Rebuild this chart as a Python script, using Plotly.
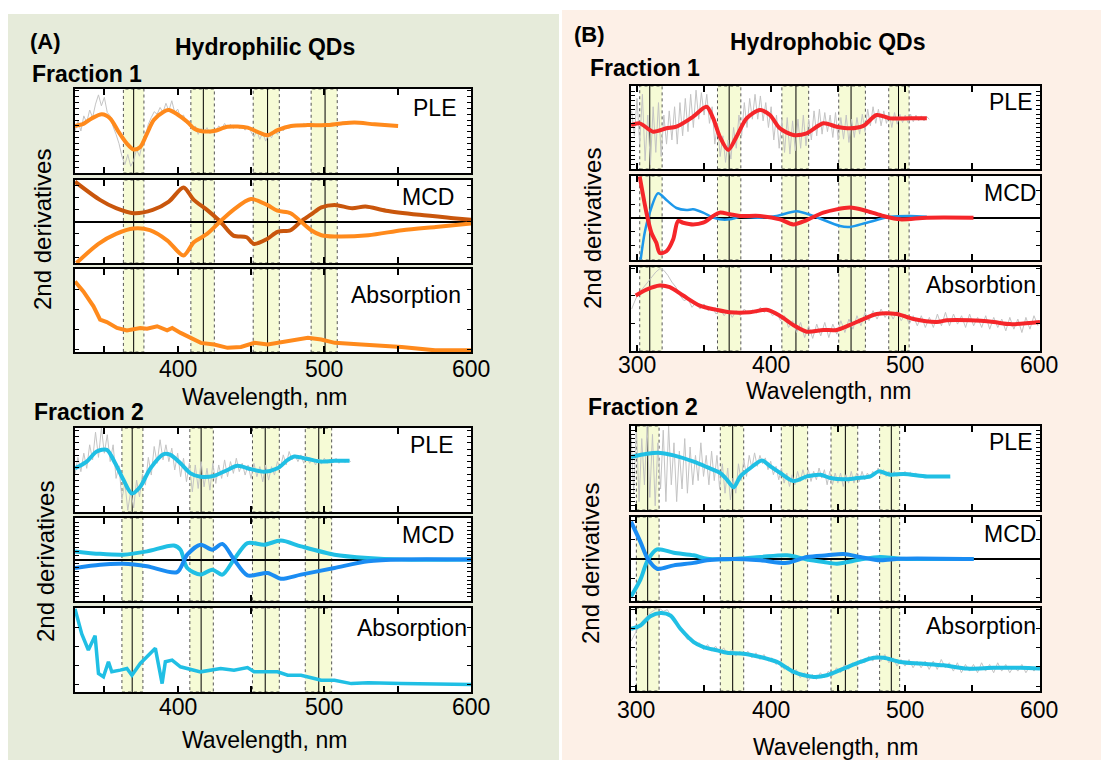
import plotly.graph_objects as go

W, H = 1101, 760
FONT = "Liberation Sans, Arial, sans-serif"

# ------------------------------------------------------------------ DATA
# Panel A (hydrophilic), fraction 1
A1_PLE_WL = [330, 335.7, 341.4, 348.3, 354, 359.7, 365.4, 370, 374.5, 379.1, 383.7, 390.5, 393.9, 399.6,
             406.5, 411.1, 415.6, 424.7, 433.9, 447.6, 454.4, 461.3, 468.1, 477.3, 488.7, 501.2, 511.5,
             520.6, 534.3, 550.3]
A1_PLE = [5.6, 5.84, 6.5, 7.0, 6.5, 4.9, 3.5, 2.8, 3.1, 4.7, 6.3, 7.3, 7.5, 7.0, 6.1, 5.3, 5.0, 5.0, 5.5,
          5.4, 4.9, 4.5, 5.1, 5.6, 5.7, 5.7, 5.9, 6.0, 5.8, 5.6]
A1_PLE_RAW_START, A1_PLE_RAW_STEP = 330, 2
A1_PLE_RAW = [5.0, 6.2, 5.0, 6.8, 6.0, 7.5, 6.6, 8.2, 9.3, 8.0, 9.0, 7.2, 6.8, 5.5, 4.6, 3.5, 2.0, 1.0, 2.2,
              0.8, 1.5, 2.8, 2.0, 3.6, 4.4, 5.8, 6.6, 7.3, 7.0, 7.8, 7.2, 8.3, 7.4, 8.6, 7.2, 7.6, 6.6, 6.9,
              5.9, 6.2, 5.2, 5.6, 4.6, 5.3, 4.9, 5.4, 4.7, 5.2, 5.0, 5.6, 5.3, 5.9, 5.4, 5.8, 5.3, 5.7, 5.3,
              5.5, 5.1, 5.6, 4.9, 4.3, 5.0, 4.0, 4.8, 3.8, 4.6, 4.2, 5.0, 4.6, 5.4, 5.0, 5.6, 5.3, 5.8, 5.5,
              5.8, 5.5, 5.9, 5.6, 5.8]
A1_MCD_A_WL = [330, 347, 358, 370, 383, 394, 404, 411, 420, 429, 438, 447, 452, 461, 468, 477, 484, 491, 498,
               507, 519, 528, 542, 565, 588, 600]
A1_MCD_A = [4.8, 2.6, 1.6, 1.0, 1.4, 2.4, 4.1, 2.6, 1.4, 0.0, -1.7, -1.9, -2.7, -2.1, -1.25, -1.05, 0.0,
            0.85, 1.7, 2.0, 1.6, 1.8, 1.3, 0.8, 0.4, 0.2]
A1_MCD_B_WL = [331, 346, 358, 370, 381, 393, 404, 411, 420, 429, 438, 450, 461, 468, 477, 484, 491, 498, 507,
               530, 553, 576, 600]
A1_MCD_B = [-5.0, -2.7, -1.5, -0.85, -1.05, -2.3, -4.1, -2.5, -1.5, 0.0, 1.4, 2.7, 2.0, 1.3, 1.0, 0.0, -1.05,
            -1.65, -1.8, -1.65, -1.05, -0.65, -0.25]
A1_ABS_WL = [330, 335.7, 342.6, 347.1, 351.7, 358.6, 365.4, 370, 374.5, 379.1, 386, 392.8, 396.3, 402, 408.9,
             415.8, 424.9, 434, 443.2, 452.3, 461.4, 475.1, 488.8, 497.9, 507.1, 525.3, 552.7, 575.5, 600]
A1_ABS = [8.5, 7.3, 5.5, 3.9, 3.6, 2.9, 2.6, 2.7, 2.9, 2.8, 3.1, 2.6, 2.9, 2.3, 1.7, 1.1, 0.9, 0.5, 0.6, 1.1,
          0.9, 1.3, 1.7, 1.5, 1.1, 0.9, 0.6, 0.2, 0.2]

# Panel A, fraction 2
A2_PLE_WL = [330, 338, 344.8, 351.7, 357.4, 363.1, 368.8, 374.5, 381.4, 390.5, 395.1, 401.9, 408.8, 415.6,
             424.7, 433.9, 440.7, 449.9, 459, 468.1, 475, 479.5, 488.7, 497.8, 506.9, 517.2]
A2_PLE = [5.2, 6.0, 7.2, 7.4, 5.8, 3.8, 2.2, 3.0, 5.2, 6.9, 6.8, 5.8, 4.6, 4.2, 4.3, 5.0, 5.5, 5.1, 4.8, 5.2,
          6.2, 6.6, 6.3, 6.0, 6.1, 6.1]
A2_PLE_RAW_START, A2_PLE_RAW_STEP = 330, 2
A2_PLE_RAW = [4.5, 6.5, 4.8, 7.0, 5.2, 8.0, 6.2, 9.5, 6.5, 10.0, 7.0, 9.2, 6.0, 8.0, 4.0, 5.5, 1.5, 3.5, 0.2,
              2.5, 0.5, 3.8, 1.8, 4.5, 3.2, 6.5, 4.4, 7.8, 5.8, 8.6, 6.2, 8.0, 6.0, 7.6, 5.0, 7.0, 4.2, 6.4,
              3.6, 5.8, 2.4, 5.6, 2.8, 6.0, 3.0, 5.2, 2.6, 5.8, 3.4, 5.6, 4.0, 6.2, 4.2, 6.0, 4.6, 6.4, 4.8,
              5.8, 4.4, 5.6, 4.0, 5.8, 4.2, 5.4, 3.6, 5.6, 3.8, 5.4, 4.4, 6.0, 5.2, 6.8, 5.6, 7.2, 6.2, 6.8,
              6.0, 6.8, 5.8, 6.6, 5.8, 6.4, 5.6, 6.3, 5.7, 6.4, 5.8, 6.3, 5.9, 6.4, 5.8, 6.3, 5.9, 6.2, 6.0]
A2_MCD_A_WL = [330, 347.1, 363.1, 379.1, 397.4, 401.9, 406.5, 415.6, 423.6, 430.5, 438.4, 447.6, 459, 470.4,
               484.1, 506.9, 529.8, 552.6, 600]
A2_MCD_A = [0.98, 0.68, 0.58, 0.98, 1.68, 1.18, -1.02, -1.82, -1.22, -1.82, 0.0, 1.98, 1.78, 2.28, 1.58, 0.58,
            0.18, 0.0, 0.0]
A2_MCD_B_WL = [330, 347.1, 363.1, 379.1, 399.6, 406.5, 415.6, 423.6, 430.5, 438.4, 447.6, 461.3, 470.4, 484.1,
               506.9, 529.8, 552.6, 600]
A2_MCD_B = [-1.02, -0.62, -0.52, -0.82, -1.52, 0.58, 1.78, 1.18, 1.88, 0.0, -1.92, -1.62, -2.32, -1.82, -1.02,
            -0.22, 0.0, 0.0]
A2_ABS_WL = [330, 334.6, 339.1, 343.7, 346, 349.4, 352.8, 355.1, 360.8, 365.4, 368.8, 374.5, 384.8, 389.4,
             391.6, 396.2, 401.9, 415.6, 429.3, 438.4, 447.6, 452.1, 461.3, 468.1, 475, 484.1, 493.2, 497.8,
             506.9, 518.4, 529.8, 552.6, 600]
A2_ABS = [9.9, 6.9, 5.0, 6.7, 2.2, 1.8, 3.6, 2.4, 2.6, 2.8, 2.0, 3.4, 5.2, 1.0, 3.6, 3.8, 3.0, 2.4, 2.8, 2.6,
          2.9, 2.4, 2.4, 2.4, 2.0, 2.0, 1.6, 1.4, 1.4, 1.0, 1.1, 1.0, 0.9]

# Panel B (hydrophobic), fraction 1
B1_PLE_WL = [295.5, 302, 312, 321.9, 329.4, 341.8, 351.8, 356.8, 361.7, 368, 374.2, 381.7, 391.6, 399.1,
             406.5, 416.5, 426.5, 438.9, 448.9, 458.8, 468.8, 478.7, 488.7, 503.6, 516.1]
B1_PLE = [5.3, 5.5, 4.5, 4.9, 5.1, 6.3, 7.5, 6.1, 3.9, 2.3, 3.9, 6.1, 7.1, 6.5, 4.9, 4.1, 4.3, 5.5, 5.1, 4.9,
          5.2, 6.5, 6.1, 6.1, 6.1]
B1_PLE_RAW_START, B1_PLE_RAW_STEP = 296, 2
B1_PLE_RAW = [7.0, 4.0, 8.5, 3.0, 9.0, 1.0, 6.5, 0.5, 7.5, 2.0, 8.0, 1.5, 6.5, 3.0, 7.0, 3.5, 7.5, 3.0, 8.0,
              4.0, 8.5, 4.5, 9.0, 5.0, 9.5, 6.0, 9.2, 6.5, 9.0, 5.5, 7.5, 3.0, 5.5, 1.5, 4.0, 0.8, 3.5, 1.2,
              5.0, 2.5, 6.5, 4.0, 8.0, 5.0, 8.5, 6.0, 9.0, 6.0, 8.8, 5.8, 8.0, 5.0, 7.5, 3.5, 6.5, 2.5, 6.0,
              2.0, 6.2, 1.8, 5.8, 2.2, 6.0, 2.5, 6.5, 2.8, 6.0, 3.5, 7.0, 4.0, 7.2, 4.2, 6.8, 4.5, 6.5, 3.8,
              6.8, 3.5, 6.2, 3.6, 6.5, 3.2, 6.0, 3.8, 6.2, 4.2, 6.6, 4.5, 7.2, 5.2, 7.5, 5.5, 7.2, 5.2, 7.0,
              5.5, 6.8, 5.0, 6.8, 5.4, 6.6, 5.6, 6.5, 5.6, 6.6, 5.7, 6.5, 5.8, 6.4, 5.8, 6.3, 6.0]
B1_MCD_A_WL = [302, 307, 310.7, 314.4, 316.9, 321.9, 326.9, 330.6, 334.4, 341.8, 349.3, 356.8, 361.7, 369.2,
               376.7, 391.6, 406.5, 416.5, 426.5, 438.9, 458.8, 471.3, 483.7, 496.2, 516.1, 550.9]
B1_MCD_A = [4.94, 0.64, -1.76, -2.96, -4.16, -3.96, -2.56, -0.36, -0.56, -0.76, -0.56, 0.24, 0.64, 0.44, 0.24,
            0.24, -0.16, -0.76, -0.26, 0.64, 1.24, 0.84, 0.24, -0.16, 0.04, 0.04]
B1_MCD_B_WL = [302.7, 305.7, 309.5, 315.7, 321.9, 329.4, 336.8, 341.8, 349.3, 356.8, 361.7, 369.2, 376.7,
               391.6, 404.1, 419, 431.4, 451.4, 458.8, 471.3, 488.7, 503.6, 516.1]
B1_MCD_B = [-4.96, -1.76, 0.64, 2.94, 2.14, 1.19, 0.94, 1.04, 0.64, 0.04, -0.16, -0.16, 0.14, 0.04, 0.24, 0.79,
            0.24, -0.96, -1.06, -0.56, 0.14, 0.24, 0.14]
B1_ABS_WL = [299, 307, 316.9, 324.4, 334.4, 346.8, 359.2, 369.2, 384.1, 396.6, 406.5, 416.5, 426.5, 438.9,
             448.9, 458.8, 468.8, 478.7, 493.7, 506.1, 523.5, 531, 548.4, 565.9, 578.3, 600.5]
B1_ABS = [6.6, 7.3, 7.8, 7.6, 6.6, 5.4, 4.9, 4.6, 4.6, 4.9, 4.2, 3.1, 2.3, 2.5, 2.5, 3.1, 3.8, 4.4, 4.4, 3.8,
          3.45, 3.65, 3.65, 3.45, 3.2, 3.45]
B1_ABS_RAW_START, B1_ABS_RAW_STEP = 296, 3
B1_ABS_RAW = [5.0, 6.2, 7.0, 7.6, 8.2, 8.8, 9.4, 9.8, 9.6, 9.0, 8.2, 7.6, 6.6, 6.0, 6.2, 5.2, 5.8, 5.0, 5.6,
              4.8, 5.2, 4.4, 5.0, 4.2, 4.9, 4.0, 4.8, 4.2, 5.0, 4.4, 4.9, 4.5, 5.2, 4.6, 5.0, 4.2, 4.6, 3.6,
              4.2, 2.8, 3.6, 2.2, 3.4, 1.6, 3.0, 1.5, 3.2, 1.8, 3.4, 1.6, 3.2, 2.0, 3.6, 2.2, 3.8, 2.6, 4.2,
              3.0, 4.6, 3.6, 4.8, 3.8, 5.0, 4.0, 4.8, 3.8, 4.8, 3.6, 4.4, 3.2, 4.2, 3.0, 4.2, 2.8, 4.0, 2.8,
              4.4, 3.0, 4.6, 3.0, 4.4, 3.2, 4.2, 2.8, 4.4, 3.0, 4.0, 2.8, 4.2, 2.6, 4.0, 2.8, 3.8, 2.4, 4.0,
              2.6, 3.8, 2.2, 4.0, 2.6, 4.2, 3.0]

# Panel B, fraction 2
B2_PLE_WL = [296, 307.9, 317.9, 327.8, 342.7, 352.6, 362.5, 367.5, 372.5, 377.4, 384.9, 393.5, 399.8, 407.2,
             417.1, 427, 437, 444.4, 454.3, 464.3, 474.2, 480.4, 489.1, 499, 516.4, 533.7]
B2_PLE = [6.3, 6.7, 6.8, 6.5, 5.75, 5.1, 4.4, 3.6, 2.7, 4.0, 5.0, 5.9, 5.2, 4.4, 3.45, 4.0, 4.2, 3.8, 3.65,
          3.8, 4.0, 4.6, 4.2, 4.3, 4.0, 4.0]
B2_PLE_RAW_START, B2_PLE_RAW_STEP = 296, 2
B2_PLE_RAW = [9.0, 2.0, 10.0, 1.0, 8.5, 3.0, 10.0, 1.5, 9.0, 0.5, 8.0, 2.5, 9.5, 1.0, 10.0, 3.0, 8.0, 1.0,
              7.0, 2.5, 8.5, 2.0, 7.5, 3.0, 6.5, 3.5, 8.0, 4.0, 6.5, 3.0, 7.0, 3.5, 6.5, 2.5, 5.5, 2.0, 5.0,
              1.2, 3.8, 2.0, 5.5, 3.5, 6.0, 4.0, 6.5, 5.0, 6.8, 5.2, 6.5, 5.5, 6.2, 4.8, 5.8, 4.2, 5.2, 3.6,
              5.0, 3.2, 4.4, 2.8, 4.2, 3.0, 4.6, 3.4, 4.8, 3.6, 4.8, 3.4, 4.6, 3.6, 5.0, 3.8, 4.8, 3.0, 4.6,
              3.0, 4.4, 3.2, 4.4, 2.8, 4.2, 3.2, 4.6, 3.2, 4.4, 3.4, 4.6, 3.6, 4.4, 3.8, 4.6, 4.2, 5.0, 4.2,
              4.8, 4.0, 4.6, 4.0, 4.6, 4.0, 4.5, 4.1, 4.6, 4.2, 4.5, 4.1, 4.4, 4.0]
B2_MCD_A_WL = [296, 303, 308.4, 315.4, 327.8, 342.7, 352.6, 372.5, 392.3, 412.2, 427, 439.5, 449.4, 466.7,
               481.6, 496.5, 551.1]
B2_MCD_A = [-4.46, -2.46, -0.16, 1.14, 0.74, 0.44, 0.04, 0.0, 0.24, 0.44, -0.06, -0.36, -0.56, -0.06, 0.24,
            0.04, 0.0]
B2_MCD_B_WL = [296, 303, 308.4, 315.4, 327.8, 342.7, 352.6, 372.5, 392.3, 412.2, 427, 441.9, 454.3, 466.7,
               481.6, 496.5, 551.1]
B2_MCD_B = [4.44, 2.04, 0.04, -1.16, -0.76, -0.46, -0.16, 0.0, -0.16, -0.46, 0.24, 0.44, 0.59, 0.24, -0.16,
            0.04, 0.0]
B2_ABS_WL = [296, 303, 310.4, 317.9, 325.3, 332.8, 342.7, 350.1, 360, 367.5, 379.9, 392.3, 404.7, 417.1, 432,
             441.9, 454.3, 466.7, 476.7, 484.1, 496.5, 511.4, 528.8, 546.2, 566, 585.9, 600.5]
B2_ABS = [7.5, 7.9, 9.0, 9.4, 9.1, 7.5, 5.9, 5.3, 4.9, 4.6, 4.5, 4.1, 3.5, 2.3, 1.7, 1.9, 2.7, 3.5, 4.0, 4.0,
          3.5, 3.3, 3.1, 2.7, 2.8, 2.8, 2.7]
B2_ABS_RAW_START, B2_ABS_RAW_STEP = 296, 3
B2_ABS_RAW = [6.0, 7.0, 7.8, 8.5, 9.0, 9.5, 9.8, 10.0, 9.6, 9.8, 9.0, 8.4, 7.4, 7.0, 6.2, 6.4, 5.6, 5.8, 5.0,
              5.6, 4.8, 5.4, 4.6, 5.2, 4.4, 5.0, 4.2, 4.8, 4.2, 4.8, 4.0, 4.6, 3.8, 4.4, 3.6, 4.0, 3.2, 3.6,
              2.6, 3.0, 2.0, 2.6, 1.6, 2.2, 1.2, 2.0, 1.4, 2.2, 1.6, 2.4, 1.8, 2.8, 2.2, 3.2, 2.6, 3.4, 3.0,
              3.8, 3.4, 4.2, 3.6, 4.4, 3.6, 4.4, 3.4, 4.0, 3.0, 3.8, 3.0, 3.8, 2.8, 3.6, 2.8, 3.6, 2.6, 3.6,
              2.6, 3.8, 2.8, 3.4, 2.4, 3.4, 2.2, 3.2, 2.4, 3.2, 2.2, 3.4, 2.4, 3.2, 2.2, 3.4, 2.4, 3.2, 2.2,
              3.0, 2.4, 3.2, 2.2, 3.0, 2.4, 3.0]

# Highlighted spectral bands: (low edge, centre, high edge), nm
BANDS_A1 = [(363, 370, 377), (409, 417.5, 425), (451.5, 461.3, 469.3), (491, 500.5, 508.8)]
BANDS_A2 = [(362, 369, 376.3), (408.3, 416, 424.3), (451, 459.7, 469.3), (487, 496.2, 505)]
BANDS_B1 = [(302, 309.5, 318.7), (360, 368.7, 377.4), (408, 418.5, 428), (450.4, 459.6, 470.3),
            (487.7, 495, 502.9)]
BANDS_B2 = [(300, 308.4, 316.9), (362.5, 371.7, 379.9), (407.9, 416.9, 427.5), (444.9, 455.6, 464.8),
            (481.1, 489.8, 496)]

TICKS_A = [350, 400, 450, 500, 550, 600]
TICKTEXT_A = ["", "400", "", "500", "", "600"]
TICKS_B = [300, 350, 400, 450, 500, 550, 600]
TICKTEXT_B = ["300", "", "400", "", "500", "", "600"]

# ------------------------------------------------------------------ STYLE
ORANGE = "#ff8a1c"
DARK_ORANGE = "#c9560c"
CYAN = "#20bfe4"
BLUE = "#1a8cf2"
RED = "#f5262a"
GRAY = "#c4c4c4"
BAND_FILL = "#f6fbd6"
GREEN_BG = "#e6ebda"
PEACH_BG = "#fdf0e7"


def raw_x(start, step, vals):
    return [start + step * i for i in range(len(vals))]


PANEL_A_X = (75, 471)
PANEL_B_X = (631, 1040)
SUBPLOTS = [
    dict(px=PANEL_A_X, py=(89, 173), kind="PLE", xr=[330, 600], yt=(0.7, 0), lab="PLE", lp=(458, 108),
         bands=BANDS_A1, xt="A", tly=None,
         tr=[(raw_x(A1_PLE_RAW_START, A1_PLE_RAW_STEP, A1_PLE_RAW), A1_PLE_RAW, GRAY, 1, False),
             (A1_PLE_WL, A1_PLE, ORANGE, 4, True)]),
    dict(px=PANEL_A_X, py=(180, 263), kind="MCD", xr=[330, 600], yt=(1.45, 0), lab="MCD", lp=(456, 197),
         bands=BANDS_A1, xt="A", tly=None,
         tr=[(A1_MCD_A_WL, A1_MCD_A, DARK_ORANGE, 4, True), (A1_MCD_B_WL, A1_MCD_B, ORANGE, 4, True)]),
    dict(px=PANEL_A_X, py=(269, 352), kind="ABS", xr=[330, 600], yt=(2.4, 0.3), lab="Absorption",
         lp=(463, 295), bands=BANDS_A1, xt="A", tly=369,
         tr=[(A1_ABS_WL, A1_ABS, ORANGE, 4, False)]),
    dict(px=PANEL_A_X, py=(428, 512), kind="PLE", xr=[330, 600], yt=(0.75, 0), lab="PLE", lp=(455, 445),
         bands=BANDS_A2, xt="A", tly=None,
         tr=[(raw_x(A2_PLE_RAW_START, A2_PLE_RAW_STEP, A2_PLE_RAW), A2_PLE_RAW, GRAY, 1, False),
             (A2_PLE_WL, A2_PLE, CYAN, 4, True)]),
    dict(px=PANEL_A_X, py=(518, 601), kind="MCD", xr=[330, 600], yt=(0.5, 0), lab="MCD", lp=(456, 535),
         bands=BANDS_A2, xt="A", tly=None,
         tr=[(A2_MCD_A_WL, A2_MCD_A, CYAN, 4, True), (A2_MCD_B_WL, A2_MCD_B, BLUE, 4, True)]),
    dict(px=PANEL_A_X, py=(608, 692), kind="ABS", xr=[330, 600], yt=(2.25, 0.9), lab="Absorption",
         lp=(469, 628), bands=BANDS_A2, xt="A", tly=707,
         tr=[(A2_ABS_WL, A2_ABS, CYAN, 3.5, False)]),
    dict(px=PANEL_B_X, py=(86, 169), kind="PLE", xr=[295.5, 600.5], yt=(0.55, 0), lab="PLE", lp=(1034, 102),
         bands=BANDS_B1, xt="B", tly=None,
         tr=[(raw_x(B1_PLE_RAW_START, B1_PLE_RAW_STEP, B1_PLE_RAW), B1_PLE_RAW, GRAY, 1, False),
             (B1_PLE_WL, B1_PLE, RED, 4, True)]),
    dict(px=PANEL_B_X, py=(176, 260), kind="MCD", xr=[295.5, 600.5], yt=(1.65, 0), lab="MCD", lp=(1038, 193),
         bands=BANDS_B1, xt="B", tly=None,
         tr=[(B1_MCD_B_WL, B1_MCD_B, "#1d98ea", 2.5, True), (B1_MCD_A_WL, B1_MCD_A, RED, 4, True)]),
    dict(px=PANEL_B_X, py=(267, 351), kind="ABS", xr=[295.5, 600.5], yt=(3.3, 3.25), lab="Absorbtion",
         lp=(1038, 285), bands=BANDS_B1, xt="B", tly=365,
         tr=[(raw_x(B1_ABS_RAW_START, B1_ABS_RAW_STEP, B1_ABS_RAW), B1_ABS_RAW, GRAY, 1, False),
             (B1_ABS_WL, B1_ABS, RED, 4, True)]),
    dict(px=PANEL_B_X, py=(426, 510), kind="PLE", xr=[296, 600.5], yt=(0.5, 0), lab="PLE", lp=(1034, 442),
         bands=BANDS_B2, xt="B", tly=None,
         tr=[(raw_x(B2_PLE_RAW_START, B2_PLE_RAW_STEP, B2_PLE_RAW), B2_PLE_RAW, GRAY, 1, False),
             (B2_PLE_WL, B2_PLE, CYAN, 4, True)]),
    dict(px=PANEL_B_X, py=(517, 601), kind="MCD", xr=[296, 600.5], yt=(2.3, 0), lab="MCD", lp=(1038, 534),
         bands=BANDS_B2, xt="B", tly=None,
         tr=[(B2_MCD_A_WL, B2_MCD_A, CYAN, 4, True), (B2_MCD_B_WL, B2_MCD_B, BLUE, 4, True)]),
    dict(px=PANEL_B_X, py=(608, 691), kind="ABS", xr=[296, 600.5], yt=(2.3, 0.6), lab="Absorption",
         lp=(1038, 626), bands=BANDS_B2, xt="B", tly=710,
         tr=[(raw_x(B2_ABS_RAW_START, B2_ABS_RAW_STEP, B2_ABS_RAW), B2_ABS_RAW, GRAY, 1, False),
             (B2_ABS_WL, B2_ABS, CYAN, 4, True)]),
]

fig = go.Figure()
shapes = []
annotations = []
layout = {}

shapes.append(dict(type="rect", xref="paper", yref="paper", x0=8 / W, x1=559 / W, y0=0, y1=1 - 14 / H,
                   fillcolor=GREEN_BG, line=dict(width=0), layer="below"))
shapes.append(dict(type="rect", xref="paper", yref="paper", x0=562 / W, x1=1, y0=0, y1=1 - 10 / H,
                   fillcolor=PEACH_BG, line=dict(width=0), layer="below"))

for i, sp in enumerate(SUBPLOTS, start=1):
    xa = "x" if i == 1 else f"x{i}"
    ya = "y" if i == 1 else f"y{i}"
    xkey = "xaxis" if i == 1 else f"xaxis{i}"
    ykey = "yaxis" if i == 1 else f"yaxis{i}"
    x0p, x1p = sp["px"]
    y0p, y1p = sp["py"]
    is_mcd = sp["kind"] == "MCD"
    tv = TICKS_A if sp["xt"] == "A" else TICKS_B
    tt = TICKTEXT_A if sp["xt"] == "A" else TICKTEXT_B
    layout[xkey] = dict(
        domain=[x0p / W, x1p / W], range=sp["xr"], anchor=ya,
        showline=True, linecolor="black", linewidth=2, mirror="allticks",
        ticks="inside", ticklen=6, tickwidth=1.5, tickcolor="black",
        tickvals=tv, showticklabels=False,
        showgrid=False, zeroline=False,
    )
    layout[ykey] = dict(
        domain=[1 - y1p / H, 1 - y0p / H], range=[-5, 5] if is_mcd else [0, 10], anchor=xa,
        showline=True, linecolor="black", linewidth=2, mirror="allticks",
        ticks="inside", ticklen=4, tickwidth=1.2, tickcolor="black",
        dtick=sp["yt"][0], tick0=sp["yt"][1], showticklabels=False,
        showgrid=False, zeroline=is_mcd, zerolinecolor="black", zerolinewidth=2,
    )
    shapes.append(dict(type="rect", xref=f"{xa} domain", yref=f"{ya} domain", x0=0, x1=1, y0=0, y1=1,
                       fillcolor="white", line=dict(width=0), layer="below"))
    for lo, c, hi in sp["bands"]:
        shapes.append(dict(type="rect", xref=xa, yref=f"{ya} domain", x0=lo, x1=hi, y0=0, y1=1,
                           fillcolor=BAND_FILL, line=dict(color="#555555", width=1, dash="dot"),
                           layer="below"))
        shapes.append(dict(type="line", xref=xa, yref=f"{ya} domain", x0=c, x1=c, y0=0, y1=1,
                           line=dict(color="black", width=1), layer="below"))
    for xs, ys, col, wdt, smooth in sp["tr"]:
        fig.add_trace(go.Scatter(
            x=xs, y=ys, mode="lines", xaxis=xa, yaxis=ya, showlegend=False, hoverinfo="skip",
            line=dict(color=col, width=wdt, shape="spline" if smooth else "linear",
                      smoothing=0.8 if smooth else None),
        ))
    annotations.append(dict(text=sp["lab"], xref="paper", yref="paper", x=sp["lp"][0] / W,
                            y=1 - sp["lp"][1] / H, xanchor="right", yanchor="middle", showarrow=False,
                            font=dict(family=FONT, size=23, color="black")))
    # tick labels on the bottom panel of each stack, placed through the x scale
    if sp["tly"] is not None:
        for v, t in zip(tv, tt):
            if t:
                annotations.append(dict(text=t, xref=xa, yref="paper", x=v, y=1 - sp["tly"] / H,
                                        xanchor="center", yanchor="middle", showarrow=False,
                                        font=dict(family=FONT, size=23, color="black")))


def add_text(text, xpx, ypx, xanchor="center", size=23, angle=0):
    annotations.append(dict(text=text, xref="paper", yref="paper", x=xpx / W, y=1 - ypx / H,
                            xanchor=xanchor, yanchor="middle", showarrow=False, textangle=angle,
                            font=dict(family=FONT, size=size, color="black")))


add_text("<b>(A)</b>", 28, 42, "left", 22)
add_text("<b>Hydrophilic QDs</b>", 265, 47)
add_text("<b>Fraction 1</b>", 30, 74, "left")
add_text("<b>Fraction 2</b>", 32, 412, "left")
add_text("<b>(B)</b>", 572, 34, "left", 22)
add_text("<b>Hydrophobic QDs</b>", 828, 42)
add_text("<b>Fraction 1</b>", 588, 68, "left")
add_text("<b>Fraction 2</b>", 586, 407, "left")
add_text("Wavelength, nm", 264, 397)
add_text("Wavelength, nm", 264, 740)
add_text("Wavelength, nm", 828, 391)
add_text("Wavelength, nm", 835, 747)
add_text("2nd derivatives", 43, 230, size=24, angle=-90)
add_text("2nd derivatives", 45, 562, size=24, angle=-90)
add_text("2nd derivatives", 592, 228, size=24, angle=-90)
add_text("2nd derivatives", 590, 564, size=24, angle=-90)

fig.update_layout(
    width=W, height=H, margin=dict(l=0, r=0, t=0, b=0),
    paper_bgcolor="white", plot_bgcolor="rgba(0,0,0,0)",
    shapes=shapes, annotations=annotations, showlegend=False,
    font=dict(family=FONT, color="black"),
    **layout,
)

fig.write_html("out.html")
